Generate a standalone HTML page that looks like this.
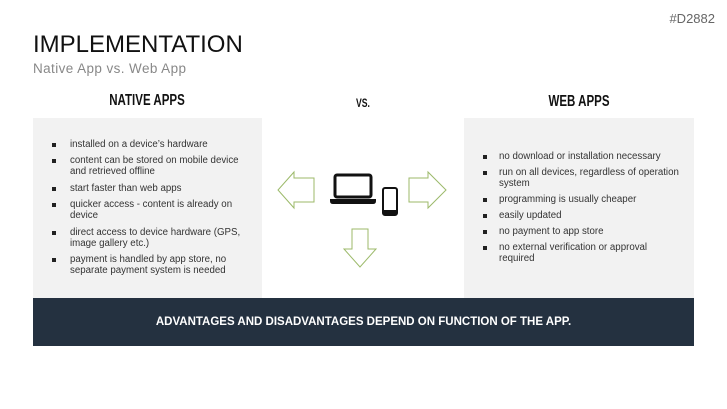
<!DOCTYPE html>
<html><head><style>
body{margin:0;width:727px;height:409px;background:#fff;position:relative;overflow:hidden;font-family:"Liberation Sans",sans-serif}
.a{position:absolute;white-space:nowrap}
.panel{position:absolute;background:#f2f2f2;top:118px;height:180px}
.t{position:absolute;font-size:9.7px;color:#333;line-height:11px}
.b{position:absolute;width:4px;height:4px;background:#222}
.h{position:absolute;font-weight:bold;font-size:16px;color:#111;transform:scaleX(0.72);transform-origin:center;text-align:center;width:120px}
</style></head><body>
<div class="a" style="right:12px;top:11px;font-size:13px;color:#666">#D2882</div>
<div class="a" style="left:33px;top:31px;font-size:24px;color:#111">IMPLEMENTATION</div>
<div class="a" style="left:33px;top:61px;font-size:13.5px;color:#888;letter-spacing:0.4px">Native App vs. Web App</div>
<div class="h" style="left:87px;top:92px">NATIVE APPS</div>
<div class="h" style="left:303px;top:96px;font-size:12px">VS.</div>
<div class="h" style="left:519px;top:93px">WEB APPS</div>
<div class="panel" style="left:33px;width:229px"></div>
<div class="panel" style="left:464px;width:230px"></div>
<div class="a" style="left:33px;top:298px;width:661px;height:48px;background:#243140;color:#fff;font-weight:bold;font-size:11.5px;text-align:center;line-height:48px">ADVANTAGES AND DISADVANTAGES DEPEND ON FUNCTION OF THE APP.</div>

<div class="b" style="left:52px;top:143px"></div><div class="t" style="left:70px;top:139px">installed on a device’s hardware</div>
<div class="b" style="left:52px;top:159px"></div><div class="t" style="left:70px;top:155px">content can be stored on mobile device<br>and retrieved offline</div>
<div class="b" style="left:52px;top:187px"></div><div class="t" style="left:70px;top:183px">start faster than web apps</div>
<div class="b" style="left:52px;top:203px"></div><div class="t" style="left:70px;top:199px">quicker access - content is already on<br>device</div>
<div class="b" style="left:52px;top:231px"></div><div class="t" style="left:70px;top:227px">direct access to device hardware (GPS,<br>image gallery etc.)</div>
<div class="b" style="left:52px;top:258px"></div><div class="t" style="left:70px;top:254px">payment is handled by app store, no<br>separate payment system is needed</div>

<div class="b" style="left:483px;top:155px"></div><div class="t" style="left:499px;top:151px">no download or installation necessary</div>
<div class="b" style="left:483px;top:171px"></div><div class="t" style="left:499px;top:167px">run on all devices, regardless of operation<br>system</div>
<div class="b" style="left:483px;top:198px"></div><div class="t" style="left:499px;top:194px">programming is usually cheaper</div>
<div class="b" style="left:483px;top:214px"></div><div class="t" style="left:499px;top:210px">easily updated</div>
<div class="b" style="left:483px;top:230px"></div><div class="t" style="left:499px;top:226px">no payment to app store</div>
<div class="b" style="left:483px;top:246px"></div><div class="t" style="left:499px;top:242px">no external verification or approval<br>required</div>

<svg class="a" style="left:0;top:0" width="727" height="409">
<g fill="#fff" stroke="#9cba6a" stroke-width="1">
<polygon points="314,178 294,178 294,172 278,190 294,208 294,202 314,202"/>
<polygon points="409,178 428,178 428,172 446,190 428,208 428,202 409,202"/>
<polygon points="352,229 368,229 368,249 376,249 360,267 344,249 352,249"/>
</g>
<rect x="335" y="175" width="36" height="22" rx="2" fill="none" stroke="#111" stroke-width="3"/>
<path d="M330,199 h46 v2 q0,3 -3,3 h-40 q-3,0 -3,-3z" fill="#111"/>
<rect x="383" y="188" width="14" height="27" rx="2" fill="none" stroke="#111" stroke-width="2"/>
<rect x="383" y="210" width="14" height="5" fill="#111"/>
</svg>
</body></html>
